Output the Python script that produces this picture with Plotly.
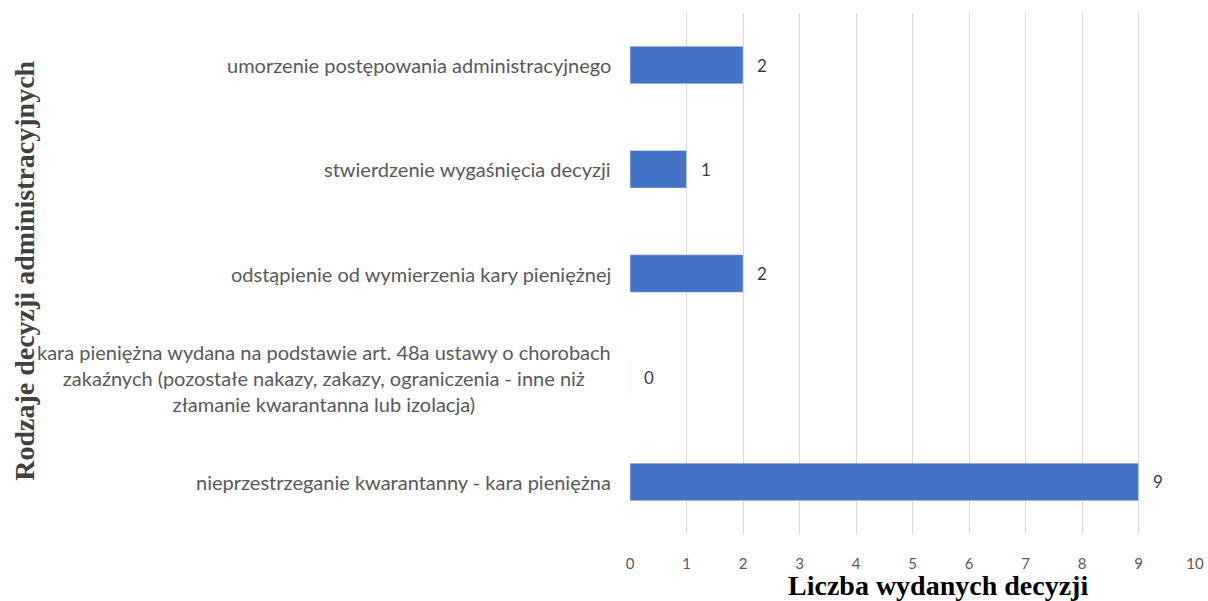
import plotly.graph_objects as go

categories = [
    "nieprzestrzeganie kwarantanny - kara pieniężna",
    "kara pieniężna wydana na podstawie art. 48a ustawy o chorobach<br>zakaźnych (pozostałe nakazy, zakazy, ograniczenia - inne niż<br>złamanie kwarantanna lub izolacja)",
    "odstąpienie od wymierzenia kary pieniężnej",
    "stwierdzenie wygaśnięcia decyzji",
    "umorzenie postępowania administracyjnego",
]
values = [9, 0, 2, 1, 2]
x_ticks = list(range(0, 11))

label_font = "Lato"
fig = go.Figure()

fig.add_trace(go.Bar(
    x=values, y=categories, orientation="h",
    marker=dict(color="#4472C4"),
    width=0.36,
    hoverinfo="x+y",
))

# category labels, centred lines like in the original chart
for cat in categories:
    fig.add_annotation(
        x=0, y=cat, xref="x", yref="y",
        text=cat, showarrow=False,
        xanchor="right", xshift=-17, align="center",
        font=dict(family=label_font, size=20, color="#595959"),
    )

# value labels
for cat, v in zip(categories, values):
    fig.add_annotation(
        x=v, y=cat, xref="x", yref="y",
        text=str(v), showarrow=False,
        xanchor="left", xshift=12,
        font=dict(family=label_font, size=17, color="#404040"),
    )

fig.add_annotation(
    x=0.545, y=-0.098, xref="paper", yref="paper",
    text="<b>Liczba wydanych decyzji</b>", showarrow=False,
    xanchor="center", yanchor="middle",
    font=dict(family="Liberation Serif", size=28, color="#000000"),
)

fig.add_annotation(
    x=-1.071, y=0.505, xref="paper", yref="paper",
    text="<b>Rodzaje decyzji administracyjnych</b>", showarrow=False,
    textangle=-90, xanchor="center", yanchor="middle",
    font=dict(family="Liberation Serif", size=28, color="#404040"),
)

fig.update_layout(
    width=1208, height=601,
    paper_bgcolor="white", plot_bgcolor="white",
    margin=dict(l=630, r=13, t=13, b=67),
    showlegend=False,
    xaxis=dict(
        range=[0, 10], tickvals=x_ticks,
        showgrid=True, gridcolor="#D9D9D9", gridwidth=1,
        zeroline=False, showline=False, automargin=False,
        tickfont=dict(family=label_font, size=15, color="#595959"),
        ticks="", ticklabelstandoff=19,
    ),
    yaxis=dict(
        range=[-0.5, 4.5], automargin=False,
        showticklabels=False, showgrid=False, zeroline=False,
        title=None,
    ),
)

fig.write_html("out.html", config={"displayModeBar": False},
               post_script="document.body.style.margin='0';")
